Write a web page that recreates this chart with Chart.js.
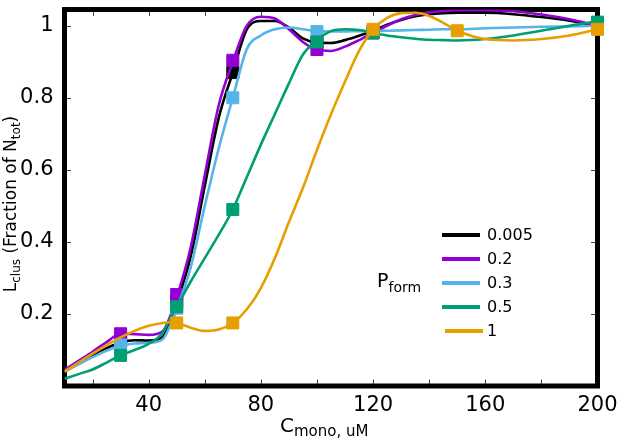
<!DOCTYPE html>
<html><head><meta charset="utf-8">
<script src="https://cdn.jsdelivr.net/npm/chart.js@4.4.0/dist/chart.umd.min.js"></script>
<style>html,body{margin:0;padding:0;background:#fff;}#wrap{width:617px;height:438px;position:relative;}</style>
</head><body><div id="wrap"><canvas id="c"></canvas></div>
<script>
// ---- data ----
const curveX = [10,15,20,25,30,35,40,45,47.5,50,55,60,65,70,75,80,85,90,95,100,105,110,115,120,125,130,135,140,145,150,160,170,180,190,200];
const curveBlack  = [0.04,0.063,0.085,0.105,0.121,0.127,0.126,0.136,0.178,0.23,0.36,0.555,0.745,0.87,0.99,1.013,1.013,0.995,0.965,0.953,0.952,0.96,0.972,0.986,1.003,1.016,1.026,1.032,1.035,1.036,1.036,1.032,1.024,1.014,1.0];
const curvePurple = [0.045,0.07,0.095,0.122,0.145,0.144,0.142,0.152,0.19,0.245,0.385,0.585,0.78,0.90,1.0,1.025,1.02,0.99,0.955,0.933,0.93,0.942,0.96,0.98,1.0,1.018,1.03,1.037,1.041,1.043,1.043,1.04,1.031,1.018,1.0];
const curveBlue   = [0.04,0.06,0.08,0.098,0.112,0.118,0.12,0.13,0.165,0.213,0.33,0.50,0.66,0.80,0.935,0.973,0.99,0.995,0.99,0.985,0.984,0.984,0.985,0.985,0.986,0.987,0.988,0.989,0.99,0.99,0.993,0.995,0.997,0.998,1.0];
const curveGreen  = [0.02,0.033,0.046,0.065,0.085,0.1,0.117,0.148,0.185,0.22,0.29,0.355,0.42,0.49,0.58,0.67,0.755,0.84,0.92,0.96,0.985,0.99,0.988,0.98,0.973,0.968,0.964,0.961,0.96,0.959,0.963,0.973,0.986,1.0,1.012];
const curveOrange = [0.04,0.065,0.09,0.113,0.135,0.153,0.167,0.175,0.177,0.175,0.162,0.153,0.157,0.175,0.213,0.272,0.355,0.455,0.55,0.655,0.754,0.845,0.93,0.99,1.022,1.035,1.036,1.027,1.008,0.986,0.963,0.959,0.963,0.973,0.99];

const markerX       = [30,50,70,100,120,200];
const markBlack     = [0.125,0.235,0.87,0.953,0.985,1.0];
const markPurple    = [0.145,0.254,0.904,0.934,0.98,1.0];
const markBlue      = [0.114,0.216,0.80,0.984,0.985,1.0];
const markGreen     = [0.085,0.22,0.49,0.955,0.98,1.01];
const markerXOrange = [50,70,120,150,200];
const markOrange    = [0.175,0.175,0.99,0.986,0.99];

const legendLabels = ['0.005','0.2','0.3','0.5','1'];
const xTickVals = [40,80,120,160,200];
const xTickLabels = ['40','80','120','160','200'];
const yTickVals = [0.2,0.4,0.6,0.8,1];
const yTickLabels = ['0.2','0.4','0.6','0.8','1'];
const xMinorVals = [20,40,60,80,100,120,140,160,180];
const yMinorVals = [0.2,0.4,0.6,0.8,1];

// ---- styles ----
const colors = ['#000000','#9400D3','#56B4E9','#009E73','#E69F00'];
const curves = [curveBlack,curvePurple,curveBlue,curveGreen,curveOrange];
const markXs = [markerX,markerX,markerX,markerX,markerXOrange];
const markYs = [markBlack,markPurple,markBlue,markGreen,markOrange];
const FONT = 'DejaVu Sans';

const datasets = [];
curves.forEach((c,i)=>{
  datasets.push({
    data: curveX.map((x,j)=>({x:x,y:c[j]})),
    borderColor: colors[i], borderWidth: 2.6, pointRadius: 0,
    cubicInterpolationMode: 'monotone', fill:false, order: 100-2*i
  });
  datasets.push({
    data: markXs[i].map((x,j)=>({x:x,y:markYs[i][j]})),
    showLine:false, pointStyle:'rect', pointRadius:8.5,
    pointBackgroundColor: colors[i], pointBorderColor: colors[i], pointBorderWidth:1,
    clip:false, order: 99-2*i
  });
});

function drawSub(ctx, parts, x, y){
  let cx = x;
  parts.forEach(p=>{
    ctx.font = p[1]+'px "'+FONT+'"';
    ctx.fillText(p[0], cx, y + p[2]);
    cx += ctx.measureText(p[0]).width;
  });
  return cx - x;
}
function measureSub(ctx, parts){
  let w=0; parts.forEach(p=>{ctx.font=p[1]+'px "'+FONT+'"'; w+=ctx.measureText(p[0]).width;}); return w;
}

const framePlugin = {
  id:'frame',
  beforeDatasetsDraw(chart){
    const {ctx, chartArea:a, scales:{x,y}} = chart;
    ctx.save();
    ctx.strokeStyle='#444'; ctx.lineWidth=1;
    const tl=6.5;
    xMinorVals.forEach(v=>{
      const px=Math.round(x.getPixelForValue(v))+0.5;
      ctx.beginPath(); ctx.moveTo(px,a.bottom); ctx.lineTo(px,a.bottom-tl);
      ctx.moveTo(px,a.top); ctx.lineTo(px,a.top+tl); ctx.stroke();
    });
    yMinorVals.forEach(v=>{
      const py=Math.round(y.getPixelForValue(v))+0.5;
      ctx.beginPath(); ctx.moveTo(a.left,py); ctx.lineTo(a.left+tl,py);
      ctx.moveTo(a.right,py); ctx.lineTo(a.right-tl,py); ctx.stroke();
    });
    ctx.strokeStyle='#000'; ctx.lineWidth=5;
    ctx.strokeRect(a.left,a.top,a.right-a.left,a.bottom-a.top);
    ctx.restore();
  },
  afterDraw(chart){
    const {ctx} = chart;
    ctx.save();
    ctx.fillStyle='#000'; ctx.textBaseline='alphabetic'; ctx.textAlign='left';
    const xt=[['C',20,0],['mono, uM',15,4]];
    drawSub(ctx,xt,280,432);
    const yt=[['L',17,0],['clus',12,4],[' (Fraction of N',17,0],['tot',12,4],[')',17,0]];
    const w=measureSub(ctx,yt);
    ctx.save(); ctx.translate(16,204); ctx.rotate(-Math.PI/2);
    drawSub(ctx,yt,-w/2,0);
    ctx.restore();
    drawSub(ctx,[['P',19,0],['form',14,5]],377,287);
    legendLabels.forEach((t,i)=>{
      const yy=235+i*24;
      ctx.strokeStyle=colors[i]; ctx.lineWidth=4;
      const x0 = i===4?445:442;
      ctx.beginPath(); ctx.moveTo(x0,yy); ctx.lineTo(x0+38,yy); ctx.stroke();
      ctx.font='16px "'+FONT+'"'; ctx.textBaseline='middle';
      ctx.fillText(t, 487, yy+1);
    });
    ctx.restore();
  }
};

new Chart(document.getElementById('c'),{
  type:'line',
  data:{datasets},
  options:{
    responsive:true, maintainAspectRatio:false, animation:false, events:[],
    layout:{padding:{left:0,right:19.5,top:2.5,bottom:0}},
    plugins:{legend:{display:false},tooltip:{enabled:false}},
    scales:{
      x:{type:'linear',min:10,max:200,
        afterFit:s=>{s.height=52;s.paddingLeft=0;s.paddingRight=0;},
        afterBuildTicks:s=>{s.ticks=xTickVals.map(v=>({value:v}));},
        ticks:{autoSkip:false,maxRotation:0,padding:7,color:'#000',font:{family:FONT,size:21},
          callback:(v)=>{const k=xTickVals.indexOf(v);return k>=0?xTickLabels[k]:'';}},
        grid:{display:false,drawTicks:false,tickLength:0},border:{display:false}},
      y:{type:'linear',min:0,max:1.045,
        afterFit:s=>{s.width=64.5;s.paddingTop=0;s.paddingBottom=0;},
        afterBuildTicks:s=>{s.ticks=yTickVals.map(v=>({value:v}));},
        ticks:{autoSkip:false,padding:11,color:'#000',font:{family:FONT,size:21},
          callback:(v)=>{const k=yTickVals.findIndex(t=>Math.abs(t-v)<1e-9);return k>=0?yTickLabels[k]:'';}},
        grid:{display:false,drawTicks:false,tickLength:0},border:{display:false}}
    }
  },
  plugins:[framePlugin]
});
</script></body></html>
